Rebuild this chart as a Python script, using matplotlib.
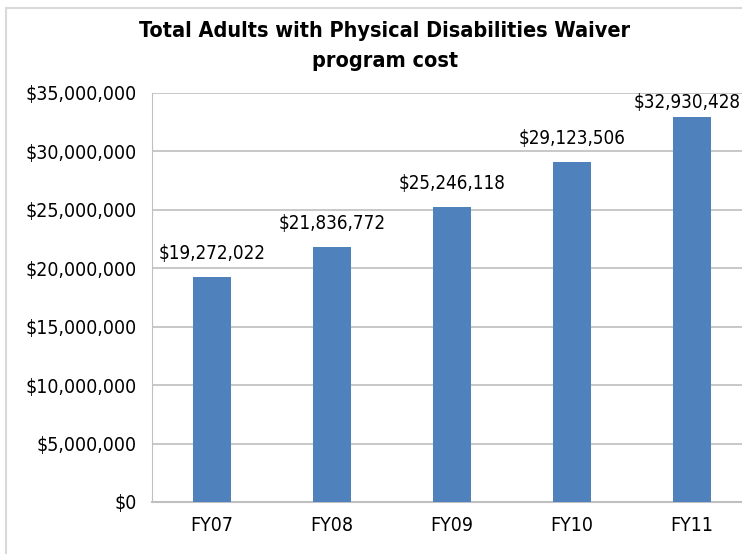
import matplotlib.pyplot as plt
from matplotlib.patches import Rectangle
from matplotlib.ticker import FuncFormatter

years = ['FY07', 'FY08', 'FY09', 'FY10', 'FY11']
costs = [19272022, 21836772, 25246118, 29123506, 32930428]
title = 'Total Adults with Physical Disabilities Waiver\nprogram cost'

plt.rcParams['font.family'] = ['DejaVu Sans']
plt.rcParams['font.stretch'] = 'condensed'

W, H = 742, 554
fig = plt.figure(figsize=(W / 100, H / 100), dpi=100)

# outer chart border (cut off on the right and bottom)
fig.patches.append(Rectangle((6 / W, -0.1), 1.2, (H - 8) / H + 0.1,
                             transform=fig.transFigure, fill=False,
                             edgecolor='#d9d9d9', linewidth=1.5))

ax = fig.add_axes([152 / W, 52 / H, 600 / W, 409 / H])
x = range(len(years))
ax.bar(x, costs, width=0.31, color='#4f81bd', zorder=3)

# labels sit above the bars, the last one is pushed down/left to stay inside
for xi, v in zip(x, costs):
    y = min(v + 1200000, 33400000)
    dx = -5 if xi == len(years) - 1 else 0
    ax.annotate('${:,}'.format(v), (xi, y), xytext=(dx, 0),
                textcoords='offset pixels', ha='center', va='bottom',
                fontsize=13.5, color='black')

ax.set_xlim(-0.5, len(years) - 0.5)
ax.set_ylim(0, 35000000)
ax.set_yticks(range(0, 35000001, 5000000))
ax.yaxis.set_major_formatter(FuncFormatter(lambda v, p: '${:,.0f}'.format(v)))
ax.set_xticks(list(x))
ax.set_xticklabels(years)
ax.tick_params(axis='both', length=0, labelsize=14, colors='black')
ax.tick_params(axis='x', pad=10)
ax.tick_params(axis='y', pad=11)

ax.grid(axis='y', color='#bfbfbf', linewidth=1.2, zorder=0)
for s in ['top', 'right']:
    ax.spines[s].set_visible(False)
ax.spines['left'].set_color('#bfbfbf')
ax.spines['bottom'].set_color('#bfbfbf')
ax.spines['bottom'].set_linewidth(1.5)

fig.text(385 / W, 1 - 46 / H, title, ha='center', va='center',
         fontsize=15.5, fontweight='bold', linespacing=1.6)

fig.savefig('out.png', dpi=100)
